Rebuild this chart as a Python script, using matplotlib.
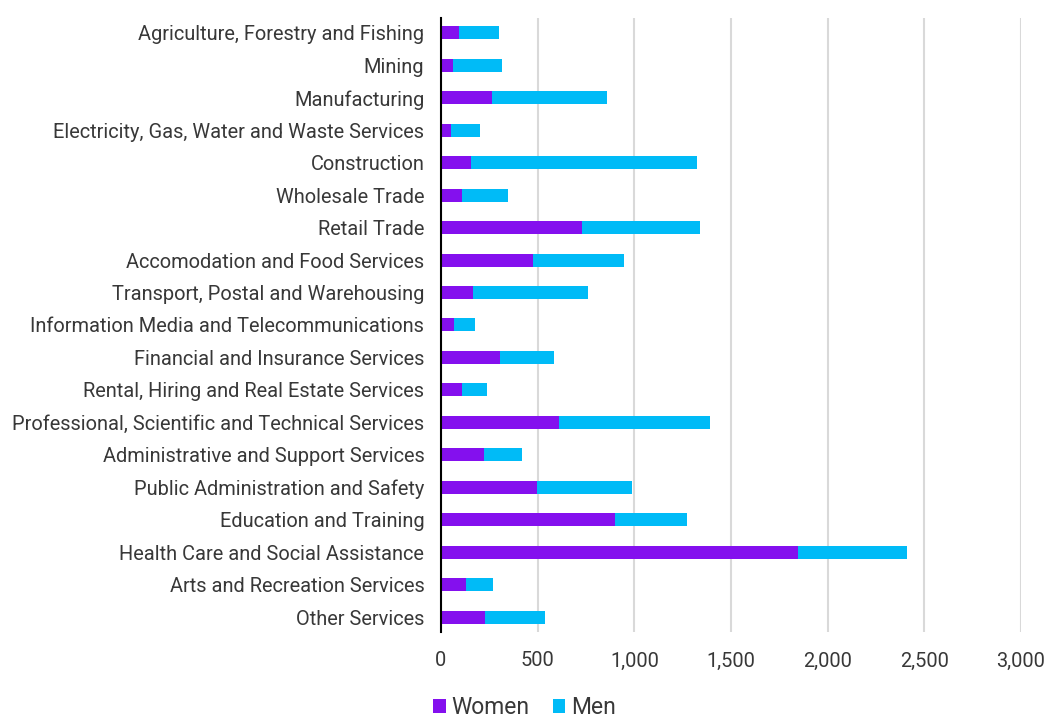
import matplotlib
matplotlib.use("Agg")
import matplotlib.pyplot as plt
import numpy as np

# industries, top to bottom
industries = [
    "Agriculture, Forestry and Fishing",
    "Mining",
    "Manufacturing",
    "Electricity, Gas, Water and Waste Services",
    "Construction",
    "Wholesale Trade",
    "Retail Trade",
    "Accomodation and Food Services",
    "Transport, Postal and Warehousing",
    "Information Media and Telecommunications",
    "Financial and Insurance Services",
    "Rental, Hiring and Real Estate Services",
    "Professional, Scientific and Technical Services",
    "Administrative and Support Services",
    "Public Administration and Safety",
    "Education and Training",
    "Health Care and Social Assistance",
    "Arts and Recreation Services",
    "Other Services",
]
women = [92, 64, 263, 52, 155, 109, 731, 477, 164, 69,
         307, 110, 611, 223, 497, 902, 1845, 130, 228]
men = [208, 252, 597, 152, 1168, 238, 611, 468, 598, 109,
       278, 130, 778, 197, 493, 371, 564, 139, 309]
xticks = [0, 500, 1000, 1500, 2000, 2500, 3000]

plt.rcParams["font.family"] = ["Roboto", "DejaVu Sans"]
text_color = "#383838"

fig = plt.figure(figsize=(10.49, 7.18), dpi=100)
ax = fig.add_axes([0.4204, 0.1198, 0.9733 - 0.4204, 0.975 - 0.1198])

y = np.arange(len(industries))
ax.barh(y, women, height=0.4, color="#8410ee", label="Women", zorder=3)
ax.barh(y, men, left=women, height=0.4, color="#00bbf7", label="Men", zorder=3)

ax.set_xlim(0, 3000)
ax.set_ylim(len(industries) - 0.54, -0.46)
ax.set_yticks(y)
ax.set_yticklabels(industries, fontsize=14.4, color=text_color)
ax.set_xticks(xticks)
ax.set_xticklabels([f"{v:,}" for v in xticks], fontsize=14.4, color=text_color)
ax.tick_params(axis="both", length=0)
ax.tick_params(axis="y", pad=12)
ax.tick_params(axis="x", pad=14)

ax.grid(axis="x", color="#d9d9d9", linewidth=1.5, zorder=0)
for s in ["top", "right", "bottom"]:
    ax.spines[s].set_visible(False)
ax.spines["left"].set_color("black")
ax.spines["left"].set_linewidth(1.5)
ax.spines["left"].set_zorder(4)

fig.legend(loc="center", bbox_to_anchor=(0.5, 0.014), ncol=2, frameon=False,
           handlelength=0.55, handleheight=0.55, handletextpad=0.25,
           columnspacing=1.0, labelcolor=text_color, prop={"size": 16.5})

fig.savefig("out.png", dpi=100)
